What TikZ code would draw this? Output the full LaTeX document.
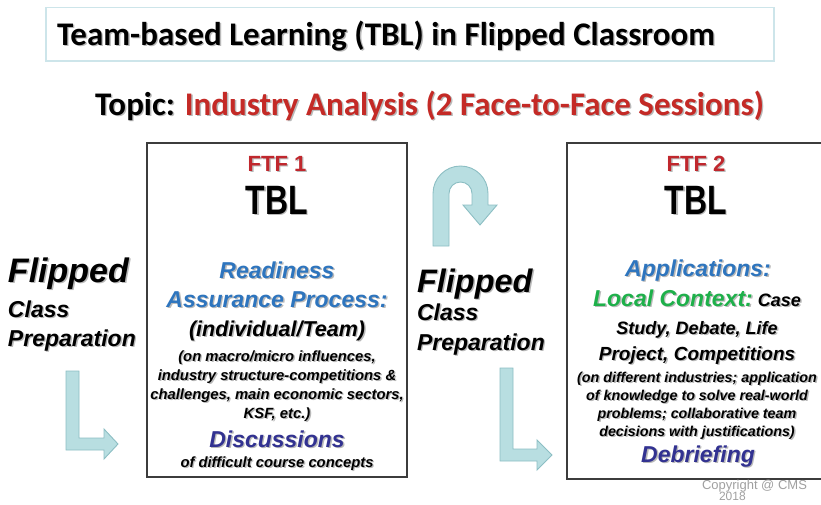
\documentclass[tikz,border=0pt]{standalone}
\usepackage{fontspec}
\setmainfont{Liberation Sans}
\newfontfamily\calibri{Carlito}

\definecolor{ftfred}{RGB}{192,39,45}
\definecolor{topicred}{RGB}{196,42,38}
\definecolor{rapblue}{RGB}{46,117,190}
\definecolor{ctxgreen}{RGB}{30,176,74}
\definecolor{navy}{RGB}{50,50,145}
\definecolor{arrowfill}{RGB}{184,222,225}
\definecolor{arrowline}{RGB}{140,190,195}
\definecolor{titleline}{RGB}{205,229,234}
\definecolor{boxline}{RGB}{60,60,60}
\definecolor{shadowgray}{RGB}{185,185,185}
\definecolor{copygray}{RGB}{160,160,160}

% text with a soft drop shadow: \shtxt[colour]{text}
\newcommand{\shtxt}[2][black]{\leavevmode\rlap{\kern1.4pt\raisebox{-1.4pt}{\textcolor{shadowgray}{#2}}}\textcolor{#1}{#2}}
% multi-coloured line: shadow from the plain text #1, face from the coloured text #2
\newcommand{\shmix}[2]{\leavevmode\rlap{\kern1.4pt\raisebox{-1.4pt}{\color{shadowgray}#1}}#2}
\newcommand{\fsz}[1]{\fontsize{#1}{#1}\selectfont}

\begin{document}
\begin{tikzpicture}[x=1pt,y=1pt,
  txt/.style={anchor=base,inner sep=0pt,outer sep=0pt},
  txtl/.style={anchor=base west,inner sep=0pt,outer sep=0pt},
  sessionbox/.style={draw=boxline,line width=1.1pt,inner sep=0pt},
  flowarrow/.style={fill=arrowfill,draw=arrowline,line width=0.9pt,line join=miter}]
\useasboundingbox (0,0) rectangle (821,-504);

% title bar
\node[draw=titleline,line width=1.2pt,minimum width=728pt,minimum height=53.5pt,inner sep=0pt]
  (titlebox) at (410,-34.25) {};
\node[txtl] (title) at (57,-45)
  {\calibri\bfseries\fsz{33}\shtxt{Team-based Learning (TBL) in Flipped Classroom}};

% topic line
\node[txtl] (topic) at (95,-115)
  {\calibri\bfseries\fsz{33}\shmix{Topic: Industry Analysis (2 Face-to-Face Sessions)}%
   {\textcolor{black}{Topic:} \textcolor{topicred}{Industry Analysis (2 Face-to-Face Sessions)}}};

% session boxes
\node[sessionbox,minimum width=260pt,minimum height=334pt] (box1) at (277,-310) {};
\node[sessionbox,minimum width=258pt,minimum height=336pt] (box2) at (696,-311) {};

% ---- FTF 1 ----
\node[txt] (ftf1) at (277,-171) {\bfseries\fsz{22}\shtxt[ftfred]{FTF 1}};
\node[txt] (tbl1) at (277,-214) {\bfseries\fsz{41}\scalebox{0.78}[1]{\shtxt{TBL}}};
\node[txt] (rap1) at (277,-278) {\bfseries\itshape\fsz{23}\shtxt[rapblue]{Readiness}};
\node[txt] (rap2) at (277,-307) {\bfseries\itshape\fsz{23}\shtxt[rapblue]{Assurance Process:}};
\node[txt] (indiv) at (277,-336) {\bfseries\itshape\fsz{21.5}\shtxt{(individual/Team)}};
\node[txt] (onm1) at (277,-361) {\bfseries\itshape\fsz{14.8}\shtxt{(on macro/micro influences,}};
\node[txt] (onm2) at (277,-380) {\bfseries\itshape\fsz{14.8}\shtxt{industry structure-competitions \&}};
\node[txt] (onm3) at (277,-399) {\bfseries\itshape\fsz{14.8}\shtxt{challenges, main economic sectors,}};
\node[txt] (onm4) at (277,-418) {\bfseries\itshape\fsz{14.8}\shtxt{KSF, etc.)}};
\node[txt] (disc) at (277,-447) {\bfseries\itshape\fsz{23}\shtxt[navy]{Discussions}};
\node[txt] (diff) at (277,-467) {\bfseries\itshape\fsz{14.8}\shtxt{of difficult course concepts}};

% ---- FTF 2 ----
\node[txt] (ftf2) at (696,-171) {\bfseries\fsz{22}\shtxt[ftfred]{FTF 2}};
\node[txt] (tbl2) at (696,-214) {\bfseries\fsz{41}\scalebox{0.78}[1]{\shtxt{TBL}}};
\node[txt] (appl) at (698,-276) {\bfseries\itshape\fsz{23}\shtxt[rapblue]{Applications:}};
\node[txt] (local) at (697,-306) {\bfseries\itshape\fsz{23}%
   \shmix{Local Context:{\fsz{18}\ Case}}%
   {\textcolor{ctxgreen}{Local Context:}{\fsz{18}\ \textcolor{black}{Case}}}};
\node[txt] (study) at (697,-334) {\bfseries\itshape\fsz{18}\shtxt{Study, Debate, Life}};
\node[txt] (proj) at (697,-360) {\bfseries\itshape\fsz{19}\shtxt{Project, Competitions}};
\node[txt] (ond1) at (697,-382) {\bfseries\itshape\fsz{14.3}\shtxt{(on different industries; application}};
\node[txt] (ond2) at (697,-400) {\bfseries\itshape\fsz{14.3}\shtxt{of knowledge to solve real-world}};
\node[txt] (ond3) at (697,-418) {\bfseries\itshape\fsz{14.3}\shtxt{problems; collaborative team}};
\node[txt] (ond4) at (697,-436) {\bfseries\itshape\fsz{14.3}\shtxt{decisions with justifications)}};
\node[txt] (debr) at (698,-462) {\bfseries\itshape\fsz{23}\shtxt[navy]{Debriefing}};

% ---- flipped preparation labels ----
\node[txtl] (flipA) at (8,-282) {\bfseries\itshape\fsz{34}\shtxt{Flipped}};
\node[txtl] (classA) at (8,-317) {\bfseries\itshape\fsz{23}\shtxt{Class}};
\node[txtl] (prepA) at (8,-346) {\bfseries\itshape\fsz{23}\shtxt{Preparation}};
\node[txtl] (flipB) at (417,-292) {\bfseries\itshape\fsz{32.5}\shtxt{Flipped}};
\node[txtl] (classB) at (417,-320) {\bfseries\itshape\fsz{23}\shtxt{Class}};
\node[txtl] (prepB) at (417,-350) {\bfseries\itshape\fsz{23}\shtxt{Preparation}};

% ---- block arrows ----
% left bent arrow into FTF 1
\draw[flowarrow] (66,-371) -- (79,-371) -- (79,-438) -- (104,-438) -- (104,-429)
  -- (118,-444) -- (104,-459) -- (104,-450) -- (66,-450) -- cycle;
% U-turn arrow between the sessions
\draw[flowarrow] (433,-246) -- (433,-193.5) arc[start angle=180,end angle=0,radius=27.5]
  -- (488,-205) -- (497,-205) -- (480,-225) -- (463,-205) -- (472,-205)
  -- (472,-193.5) arc[start angle=0,end angle=180,radius=11.5] -- (449,-246) -- cycle;
% bent arrow into FTF 2
\draw[flowarrow] (500,-368) -- (513,-368) -- (513,-449) -- (537,-449) -- (537,-440)
  -- (552,-455) -- (537,-470) -- (537,-461) -- (500,-461) -- cycle;

% copyright note
\node[txtl,text=copygray] (copy1) at (702,-489) {\fsz{13}Copyright @ CMS};
\node[txtl,text=copygray] (copy2) at (719,-500.5) {\fsz{12}2018};
\end{tikzpicture}
\end{document}
